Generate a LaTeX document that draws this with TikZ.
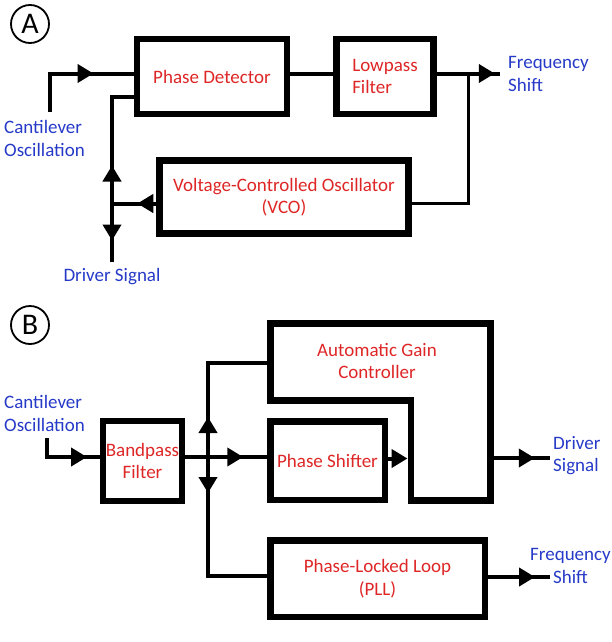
\documentclass[tikz,border=0pt]{standalone}
\usepackage{fontspec}
\setmainfont{Carlito}
\usepackage{tikz}
\usetikzlibrary{arrows.meta}
\usetikzlibrary{decorations.markings}
\definecolor{blkred}{RGB}{222,38,38}
\definecolor{sigblue}{RGB}{38,58,200}
\tikzset{>=Triangle}
\tikzset{
    blk/.style={draw,line width=6.5pt,text=blkred,align=center,inner sep=2pt},
    sig/.style={line width=4pt},
    fb/.style={line width=3pt},
    lbl/.style={text=sigblue,inner sep=0pt},
    tag/.style={circle,draw,line width=1.8pt,minimum size=38pt,inner sep=0pt,font=\fontsize{30}{30}\selectfont},
    midarrow/.style={postaction={decorate},decoration={markings,mark=at position #1 with {\arrow{Triangle[length=16pt,width=18pt]}}}},
}

\begin{document}
\begin{tikzpicture}[x=1pt,y=-1pt,font=\fontsize{19}{22.5}\selectfont]
    \useasboundingbox (0,0) rectangle (612,642);

    % (A)
    \node[tag] (tagA) at (30,24) {A};
    \node[blk,minimum width=150pt,minimum height=75pt] (pd) at (212,76.5) {Phase Detector};
    \node[blk,align=left,minimum width=97pt,minimum height=75pt] (lp) at (385,76.5) {Lowpass\\Filter};
    \node[blk,minimum width=249pt,minimum height=73pt] (vco) at (284,197) {Voltage-Controlled Oscillator\\(VCO)};

    \node[lbl,anchor=west,align=left] (cantA) at (4,138.5) {Cantilever\\Oscillation};
    \node[lbl,anchor=west,align=left] (freqA) at (508,74) {Frequency\\Shift};
    \node[lbl] (drvtxtA) at (112,277) {Driver Signal};

    \coordinate (inA) at (50,112);
    \coordinate (outA) at (500,73.5);
    \coordinate (tapA) at (468,73.5);
    \coordinate (jA) at (112,203.5);
    \coordinate (drvA) at (112,262);

    \draw[sig,midarrow=82pt] (inA) |- ([yshift=3pt]pd.west);
    \draw[sig] ([yshift=3pt]pd.east) -- ([yshift=3pt]lp.west);
    \draw[sig,midarrow=58pt] ([yshift=3pt]lp.east) -- (outA);
    \draw[fb] (tapA) |- ([yshift=-6.5pt]vco.east);
    \draw[sig,midarrow=19pt] ([yshift=-6.5pt]vco.west) -- (jA);
    \draw[sig,midarrow=38pt] (jA) |- ([yshift=-20.5pt]pd.west);
    \draw[sig,midarrow=37pt] (jA) -- (drvA);

    % (B)
    \node[tag] (tagB) at (30,325) {B};
    \node[blk,minimum width=79pt,minimum height=80pt] (bpf) at (142.5,461) {Bandpass\\Filter};
    \node[blk,minimum width=114.5pt,minimum height=78.5pt] (ps) at (327.5,460.5) {Phase Shifter};
    \node[blk,minimum width=214.5pt,minimum height=76.5pt] (pll) at (377.5,578.5) {Phase-Locked Loop\\(PLL)};

    \coordinate (agcNW) at (270.25,323.25);
    \coordinate (agcNE) at (490.5,323.25);
    \coordinate (agcSE) at (490.5,500.5);
    \coordinate (agcSW) at (410.75,500.5);
    \coordinate (agcIN) at (410.75,400.5);
    \coordinate (agcW) at (270.25,400.5);
    \draw[line width=6.5pt] (agcNW) -- (agcNE) -- (agcSE) -- (agcSW) -- (agcIN) -- (agcW) -- cycle;
    \node[text=blkred,align=center] (agc) at (377,361) {Automatic Gain\\Controller};
    \coordinate (agcL) at (267,363);
    \coordinate (agcR) at (407.5,458.5);
    \coordinate (agcO) at (493.75,458);

    \node[lbl,anchor=west,align=left] (cantB) at (4,413.5) {Cantilever\\Oscillation};
    \node[lbl,anchor=west,align=left] (drvtxtB) at (553,455.5) {Driver\\Signal};
    \node[lbl,align=center] (freqB) at (570.5,566) {Frequency\\Shift};

    \coordinate (inB) at (47,438);
    \coordinate (jB) at (208,457);
    \coordinate (drvB) at (550,458);
    \coordinate (outB) at (550,577);

    \draw[sig,midarrow=59pt] (inB) |- ([yshift=4pt]bpf.west);
    \draw[sig,midarrow=58pt] ([yshift=4pt]bpf.east) -- ([yshift=3.5pt]ps.west);
    \draw[sig,midarrow=40pt] (jB) |- (agcL);
    \draw[sig,midarrow=36pt] (jB) |- ([yshift=2.5pt]pll.west);
    \draw[sig,-{Triangle[length=16pt,width=18pt]}] ([yshift=2pt]ps.east) -- (agcR);
    \draw[sig,midarrow=41pt] (agcO) -- (drvB);
    \draw[sig,midarrow=47pt] ([yshift=1.5pt]pll.east) -- (outB);
\end{tikzpicture}
\end{document}
